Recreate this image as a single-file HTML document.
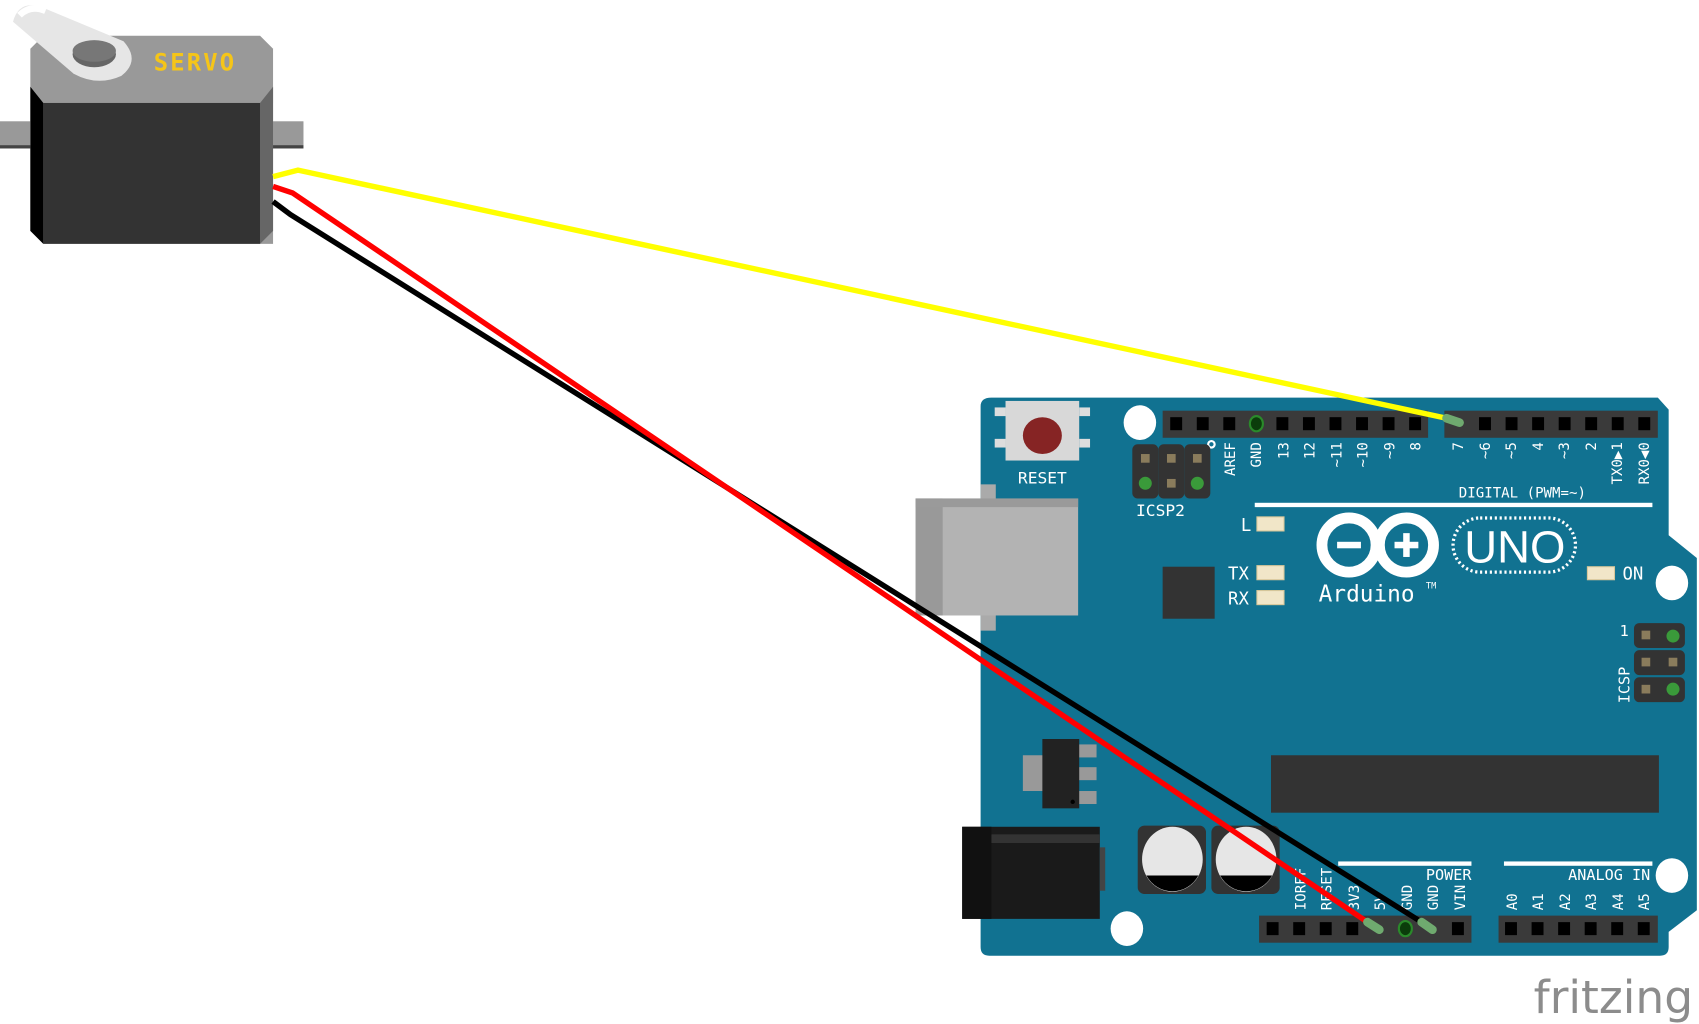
<!DOCTYPE html>
<html><head><meta charset="utf-8"><style>html,body{margin:0;padding:0;background:#fff}svg{display:block}text{font-family:"DejaVu Sans Mono","Liberation Mono",monospace}</style></head><body>
<svg width="1699" height="1024" viewBox="0 0 1568 945" xmlns="http://www.w3.org/2000/svg">
<!-- Servo -->
<rect x="0" y="112" width="280" height="25" fill="#999"/>
<rect x="0" y="134" width="280" height="3" fill="#444"/>
<polygon points="40,33 240,33 252,45 252,225 240,225 40,225 28,213 28,45" fill="#999"/>
<polygon points="28,80 40,95 40,225 28,213" fill="#000"/>
<polygon points="252,80 240,95 240,225 252,213" fill="#666"/>
<rect x="40" y="95" width="200" height="130" fill="#333"/>
<rect x="0" y="112" width="28" height="25" fill="#999"/><rect x="0" y="134" width="28" height="3" fill="#444"/>
<rect x="252" y="112" width="28" height="25" fill="#999"/><rect x="252" y="134" width="28" height="3" fill="#444"/>
<path d="M12,20 L68,68 Q90,80 112,70 Q130,56 114,38 L42,8 Q18,-2 12,20Z" fill="#e6e6e6"/>
<path d="M18,14 Q28,4 42,10" stroke="#fff" stroke-width="6" fill="none"/>
<ellipse cx="87" cy="50" rx="20" ry="12" fill="#666"/>
<ellipse cx="87" cy="47" rx="20" ry="10" fill="#777"/>
<text x="180" y="65" font-size="22" font-weight="bold" fill="#f5c518" text-anchor="middle" letter-spacing="2">SERVO</text>
<!-- Board -->
<path d="M915,367 L1530,367 L1540,378 L1540,494 L1566,515 L1566,840 L1540,860 L1540,874 Q1540,882 1532,882 L913,882 Q905,882 905,874 L905,375 Q905,367 915,367Z" fill="#117291"/>
<ellipse cx="1052" cy="390" rx="15" ry="16" fill="#fff"/>
<ellipse cx="1543" cy="538" rx="15" ry="16" fill="#fff"/>
<ellipse cx="1543" cy="808" rx="15" ry="16" fill="#fff"/>
<ellipse cx="1040" cy="857" rx="15" ry="16" fill="#fff"/>
<!-- reset -->
<rect x="918" y="376" width="10" height="8" fill="#ddd"/><rect x="918" y="405" width="10" height="8" fill="#ddd"/>
<rect x="996" y="376" width="10" height="8" fill="#ddd"/><rect x="996" y="405" width="10" height="8" fill="#ddd"/>
<rect x="928" y="370" width="68" height="55" fill="#d8d8d8"/>
<ellipse cx="962" cy="402" rx="18" ry="17" fill="#862424"/>
<text x="962" y="446" font-size="15" fill="#fff" text-anchor="middle">RESET</text>
<!-- USB -->
<rect x="905" y="447" width="14" height="135" fill="#aaa"/>
<rect x="845" y="460" width="150" height="108" fill="#b3b3b3"/>
<rect x="845" y="460" width="25" height="108" fill="#999"/>
<rect x="845" y="460" width="150" height="8" fill="#9a9a9a"/>
<!-- top headers -->
<rect x="1073" y="379" width="245" height="25" fill="#3a3a3a"/>
<rect x="1333" y="379" width="197" height="25" fill="#3a3a3a"/>
<g fill="#000">
<rect x="1080" y="385" width="11" height="12"/><rect x="1104.5" y="385" width="11" height="12"/><rect x="1129" y="385" width="11" height="12"/>
<rect x="1178" y="385" width="11" height="12"/><rect x="1202.5" y="385" width="11" height="12"/><rect x="1227" y="385" width="11" height="12"/><rect x="1251.5" y="385" width="11" height="12"/><rect x="1276" y="385" width="11" height="12"/><rect x="1300.5" y="385" width="11" height="12"/>
<rect x="1365" y="385" width="11" height="12"/><rect x="1389.5" y="385" width="11" height="12"/><rect x="1414" y="385" width="11" height="12"/><rect x="1438.5" y="385" width="11" height="12"/><rect x="1463" y="385" width="11" height="12"/><rect x="1487.5" y="385" width="11" height="12"/><rect x="1512" y="385" width="11" height="12"/>
</g>
<ellipse cx="1159.5" cy="391" rx="6" ry="7" fill="#0b3d0b" stroke="#2a8a2a" stroke-width="2"/>
<g fill="#fff" font-size="13">
<text transform="translate(1140,408) rotate(-90)" text-anchor="end">AREF</text>
<text transform="translate(1164,408) rotate(-90)" text-anchor="end">GND</text>
<text transform="translate(1189,408) rotate(-90)" text-anchor="end">13</text>
<text transform="translate(1213,408) rotate(-90)" text-anchor="end">12</text>
<text transform="translate(1238,408) rotate(-90)" text-anchor="end">~11</text>
<text transform="translate(1262,408) rotate(-90)" text-anchor="end">~10</text>
<text transform="translate(1287,408) rotate(-90)" text-anchor="end">~9</text>
<text transform="translate(1311,408) rotate(-90)" text-anchor="end">8</text>
<text transform="translate(1350,408) rotate(-90)" text-anchor="end">7</text>
<text transform="translate(1375,408) rotate(-90)" text-anchor="end">~6</text>
<text transform="translate(1399,408) rotate(-90)" text-anchor="end">~5</text>
<text transform="translate(1424,408) rotate(-90)" text-anchor="end">4</text>
<text transform="translate(1448,408) rotate(-90)" text-anchor="end">~3</text>
<text transform="translate(1473,408) rotate(-90)" text-anchor="end">2</text>
<text transform="translate(1497,408) rotate(-90)" text-anchor="end">TX0▶1</text>
<text transform="translate(1522,408) rotate(-90)" text-anchor="end">RX0◀0</text>
<text x="1405" y="459" text-anchor="middle" font-size="13">DIGITAL (PWM=~)</text>
<text x="1071" y="476" text-anchor="middle" font-size="15">ICSP2</text>
</g>
<circle cx="1118" cy="410" r="3" fill="none" stroke="#fff" stroke-width="2"/>
<rect x="1158" y="464" width="367" height="4" fill="#fff"/>
<!-- ICSP2 -->
<rect x="1045" y="410" width="24" height="50" rx="5" fill="#333"/><rect x="1069" y="410" width="24" height="50" rx="5" fill="#333"/><rect x="1093" y="410" width="24" height="50" rx="5" fill="#333"/>
<g fill="#8a7c5c"><rect x="1053" y="419" width="8" height="8"/><rect x="1077" y="419" width="8" height="8"/><rect x="1101" y="419" width="8" height="8"/><rect x="1077" y="442" width="8" height="8"/></g>
<circle cx="1057" cy="446" r="6" fill="#3a9a3a"/><circle cx="1105" cy="446" r="6" fill="#3a9a3a"/>
<rect x="1073" y="523" width="48" height="48" fill="#333"/>
<!-- LEDs -->
<g fill="#f1e6c8" stroke="#d8c79a"><rect x="1160" y="477" width="25" height="13"/><rect x="1160" y="522" width="25" height="13"/><rect x="1160" y="545" width="25" height="13"/><rect x="1465" y="523" width="25" height="12"/></g>
<g fill="#fff" font-size="16"><text x="1150" y="490" text-anchor="middle">L</text><text x="1143" y="535" text-anchor="middle">TX</text><text x="1143" y="558" text-anchor="middle">RX</text><text x="1507" y="535" text-anchor="middle">ON</text></g>
<!-- logo -->
<g fill="none" stroke="#fff" stroke-width="10"><circle cx="1245" cy="503" r="25"/><circle cx="1298" cy="503" r="25"/></g>
<rect x="1234" y="500" width="22" height="6" fill="#fff"/>
<rect x="1287" y="500" width="22" height="6" fill="#fff"/><rect x="1295" y="492" width="6" height="22" fill="#fff"/>
<rect x="1341" y="478" width="113" height="50" rx="25" fill="none" stroke="#fff" stroke-width="3" stroke-dasharray="2,2.5"/>
<text x="1398" y="519" font-size="42" fill="#fff" text-anchor="middle" style="font-family:'Liberation Sans',sans-serif">UNO</text>
<text x="1217" y="555" font-size="21" fill="#fff">Arduino</text><text x="1316" y="543" font-size="8" fill="#fff">TM</text>
<!-- ICSP right -->
<rect x="1508" y="575" width="47" height="23" rx="5" fill="#333"/><rect x="1508" y="600" width="47" height="23" rx="5" fill="#333"/><rect x="1508" y="625" width="47" height="23" rx="5" fill="#333"/>
<g fill="#8a7c5c"><rect x="1515" y="582" width="8" height="8"/><rect x="1515" y="607" width="8" height="8"/><rect x="1540" y="607" width="8" height="8"/><rect x="1515" y="632" width="8" height="8"/></g>
<circle cx="1544" cy="587" r="6" fill="#3a9a3a"/><circle cx="1544" cy="636" r="6" fill="#3a9a3a"/>
<g fill="#fff" font-size="14"><text x="1499" y="587" text-anchor="middle">1</text><text transform="translate(1504,649) rotate(-90)">ICSP</text></g>
<rect x="1173" y="697" width="358" height="53" fill="#333"/>
<!-- regulator -->
<rect x="944" y="697" width="20" height="33" fill="#999"/>
<rect x="995" y="687" width="17" height="12" fill="#999"/><rect x="995" y="708" width="17" height="12" fill="#999"/><rect x="995" y="730" width="17" height="12" fill="#999"/>
<rect x="962" y="682" width="34" height="64" fill="#222"/>
<circle cx="990" cy="740" r="2" fill="#000"/>
<!-- barrel jack -->
<rect x="888" y="763" width="127" height="85" fill="#1a1a1a"/>
<rect x="888" y="763" width="27" height="85" fill="#111"/>
<rect x="915" y="770" width="100" height="8" fill="#333"/>
<rect x="1015" y="782" width="5" height="40" fill="#444"/>
<!-- caps -->
<rect x="1050" y="762" width="63" height="63" rx="6" fill="#333"/>
<rect x="1118" y="762" width="63" height="63" rx="6" fill="#333"/>
<ellipse cx="1082" cy="793" rx="28" ry="30" fill="#e6e6e6"/>
<path d="M1058,808 L1106,808 A28,30 0 0 1 1058,808Z" fill="#000"/>
<ellipse cx="1150" cy="793" rx="28" ry="30" fill="#e6e6e6"/>
<path d="M1126,808 L1174,808 A28,30 0 0 1 1126,808Z" fill="#000"/>
<!-- power/analog headers -->
<rect x="1162" y="845" width="196" height="25" fill="#3a3a3a"/>
<rect x="1383" y="845" width="147" height="25" fill="#3a3a3a"/>
<g fill="#000">
<rect x="1169" y="851" width="11" height="12"/><rect x="1193.5" y="851" width="11" height="12"/><rect x="1218" y="851" width="11" height="12"/><rect x="1242.5" y="851" width="11" height="12"/><rect x="1340" y="851" width="11" height="12"/>
<rect x="1389" y="851" width="11" height="12"/><rect x="1413.5" y="851" width="11" height="12"/><rect x="1438" y="851" width="11" height="12"/><rect x="1462.5" y="851" width="11" height="12"/><rect x="1487" y="851" width="11" height="12"/><rect x="1511.5" y="851" width="11" height="12"/>
</g>
<ellipse cx="1297" cy="857" rx="6" ry="7" fill="#0b3d0b" stroke="#2a8a2a" stroke-width="2"/>
<rect x="1235" y="795" width="123" height="4" fill="#fff"/>
<rect x="1388" y="795" width="137" height="4" fill="#fff"/>
<g fill="#fff" font-size="13">
<text transform="translate(1205,840) rotate(-90)">IOREF</text>
<text transform="translate(1229,840) rotate(-90)">RESET</text>
<text transform="translate(1254,840) rotate(-90)">3V3</text>
<text transform="translate(1278,840) rotate(-90)">5V</text>
<text transform="translate(1303,840) rotate(-90)">GND</text>
<text transform="translate(1327,840) rotate(-90)">GND</text>
<text transform="translate(1352,840) rotate(-90)">VIN</text>
<text transform="translate(1400,840) rotate(-90)">A0</text>
<text transform="translate(1424,840) rotate(-90)">A1</text>
<text transform="translate(1449,840) rotate(-90)">A2</text>
<text transform="translate(1473,840) rotate(-90)">A3</text>
<text transform="translate(1498,840) rotate(-90)">A4</text>
<text transform="translate(1522,840) rotate(-90)">A5</text>
<text x="1358" y="812" text-anchor="end" font-size="14">POWER</text>
<text x="1523" y="812" text-anchor="end" font-size="14">ANALOG IN</text>
</g>
<!-- wires -->
<polyline points="252,163 275,157 1335,386" fill="none" stroke="#ffff00" stroke-width="5"/>
<polyline points="252,186 268,198 1312,851" fill="none" stroke="#000" stroke-width="5"/>
<polyline points="252,172 270,178 1262,851" fill="none" stroke="#ff0000" stroke-width="5"/>
<line x1="1335" y1="386" x2="1347" y2="390" stroke="#6faa6f" stroke-width="8" stroke-linecap="round"/>
<line x1="1262" y1="851" x2="1273" y2="858" stroke="#6faa6f" stroke-width="8" stroke-linecap="round"/>
<line x1="1312" y1="851" x2="1322" y2="858" stroke="#6faa6f" stroke-width="8" stroke-linecap="round"/>
<!-- fritzing -->
<text x="1489" y="935" font-size="42" fill="#8c8c8c" text-anchor="middle" style="font-family:'DejaVu Sans',sans-serif">fritzing</text>
</svg>
</body></html>
